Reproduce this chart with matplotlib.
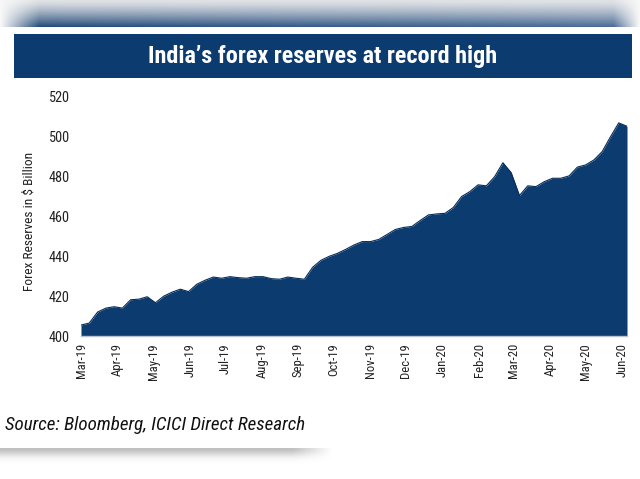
import numpy as np
import pandas as pd
import matplotlib
matplotlib.use("Agg")
import matplotlib.pyplot as plt
import matplotlib.dates as mdates
import matplotlib.patheffects as pe
from matplotlib import font_manager as fm

# weekly reserves ($ bn), Fridays from 1 Mar 2019 to 5 Jun 2020
start_date = "2019-03-01"
reserves = [
    405.5, 406.5, 412.0, 414.0, 414.7, 414.0, 418.2, 418.5, 419.7, 416.7,
    420.0, 422.0, 423.5, 422.3, 426.0, 428.0, 429.6, 429.0, 429.8, 429.3,
    429.0, 429.8, 429.8, 428.8, 428.5, 429.6, 429.0, 428.5, 434.5, 438.0,
    440.0, 441.5, 443.5, 445.7, 447.4, 447.4, 448.5, 451.0, 453.5, 454.5,
    455.0, 458.0, 460.8, 461.3, 461.6, 464.5, 470.0, 472.5, 475.9, 475.4,
    480.0, 487.0, 482.0, 470.5, 475.4, 475.0, 477.5, 479.2, 479.2, 480.4,
    484.8, 485.9, 488.4, 492.6, 500.0, 507.0, 505.3,
]
dates = pd.date_range(start_date, periods=len(reserves), freq="7D")
y_ticks = [400, 420, 440, 460, 480, 500, 520]

title = "India\u2019s forex reserves at record high"
ylabel = "Forex Reserves in $ Billion"
source = "Source: Bloomberg, ICICI Direct Research"

navy = "#0b3b6f"

# look for a narrow face (the original uses Arial Narrow)
faces = fm.fontManager.ttflist
names = sorted({f.name for f in faces})
preferred = ["Liberation Sans Narrow", "Roboto Condensed", "Open Sans Condensed"]
narrow_names = [n for n in preferred if n in names] + \
    [n for n in names if ("Narrow" in n or "Condensed" in n) and n not in preferred]
if narrow_names:
    fam = narrow_names[0]
    font_kw = dict(family=[fam, "DejaVu Sans"])
    has_bold = any(f.name == fam and (f.weight in ("bold", "semibold") or
                   (isinstance(f.weight, int) and f.weight >= 600)) for f in faces)
else:
    font_kw = dict(family=["Liberation Sans", "DejaVu Sans"])
    has_bold = True

fig = plt.figure(figsize=(6.4, 4.79), dpi=100, facecolor="white")
renderer = fig.canvas.get_renderer()


def fit_size(s, target_px, **kw):
    probe = fig.text(0, 0, s, fontsize=10, **font_kw, **kw)
    w = probe.get_window_extent(renderer).width
    probe.remove()
    return 10 * target_px / w


# blurred band at the very top
band = fig.add_axes([0, 1 - 27 / 479, 1, 27 / 479], zorder=0)
band.axis("off")
t = np.linspace(0, 1, 40)[:, None, None]
xs = np.linspace(0, 1, 320)[None, :, None]
top_c = np.array([0.88, 0.89, 0.90])[None, None, :]
bot_left = np.array([0.13, 0.29, 0.47])
bot_right = np.array([0.30, 0.43, 0.60])
bot_c = bot_left * (1 - xs) + bot_right * xs
w = t ** 1.3
img = top_c * (1 - w) + bot_c * w
fade = np.clip(xs / 0.06, 0, 1) * np.clip((1 - xs) / 0.04, 0, 1)
img = img * fade + (1 - fade) * 0.97
band.imshow(img, aspect="auto", extent=[0, 1, 0, 1], origin="upper")

# soft shadow under the source line
shadow = fig.add_axes([0, 1 - 470 / 479, 0.52, 22 / 479], zorder=0)
shadow.axis("off")
sv = np.exp(-((np.linspace(0, 1, 30)) / 0.35) ** 2)[:, None]
sh = np.clip((1 - np.linspace(0, 1, 200)) / 0.12, 0, 1)[None, :]
simg = np.zeros((30, 200, 4))
simg[..., :3] = 0.45
simg[..., 3] = sv * sh * 0.45
shadow.imshow(simg, aspect="auto", extent=[0, 1, 0, 1], origin="upper")

# title bar
tb = fig.add_axes([14 / 640, 1 - 78 / 479, 618 / 640, 44 / 479], zorder=1)
tb.set_facecolor(navy)
tb.set_xticks([])
tb.set_yticks([])
for s in tb.spines.values():
    s.set_visible(False)
ttl = tb.text(0.5, 0.5, title, color="white", ha="center", va="center",
              fontsize=fit_size(title, 350, fontweight="bold"), fontweight="bold",
              transform=tb.transAxes, **font_kw)
if not has_bold:
    ttl.set_path_effects([pe.withStroke(linewidth=1.3, foreground="white")])

# main chart
ax = fig.add_axes([81 / 640, 1 - 336 / 479, 546 / 640, 239 / 479], zorder=2)
ax.fill_between(dates, reserves, 400, color=navy, linewidth=0)
ax.plot(dates, reserves, color="#082c55", linewidth=0.8)
ax.set_xlim(dates[0], dates[-1])
ax.set_ylim(400, 520)
ax.set_yticks(y_ticks)
ax.xaxis.set_major_locator(mdates.MonthLocator())
ax.xaxis.set_major_formatter(mdates.DateFormatter("%b-%y"))
ax.tick_params(axis="x", rotation=90, length=0, pad=5)
ax.tick_params(axis="y", length=0, pad=8)
xs_size = fit_size("Mar-19", 35)
ys_size = fit_size("520", 21)
for lab in ax.get_xticklabels():
    lab.set_fontsize(xs_size)
for lab in ax.get_yticklabels():
    lab.set_fontsize(ys_size)
for lab in ax.get_xticklabels() + ax.get_yticklabels():
    lab.set_color("#222222")
    lab.set_family(font_kw["family"])
for s in ["top", "right", "left"]:
    ax.spines[s].set_visible(False)
ax.spines["bottom"].set_color("#b8c2cc")
ax.spines["bottom"].set_linewidth(1.0)

fig.text(29 / 640, 1 - 221 / 479, ylabel, rotation=90, ha="center", va="center",
         fontsize=fit_size(ylabel, 138), color="#222222", **font_kw)

fig.text(5 / 640, 1 - 425 / 479, source, style="italic", ha="left", va="center",
         fontsize=fit_size(source, 300, style="italic"), color="#111111", **font_kw)

fig.savefig("out.png", dpi=100, facecolor="white")
